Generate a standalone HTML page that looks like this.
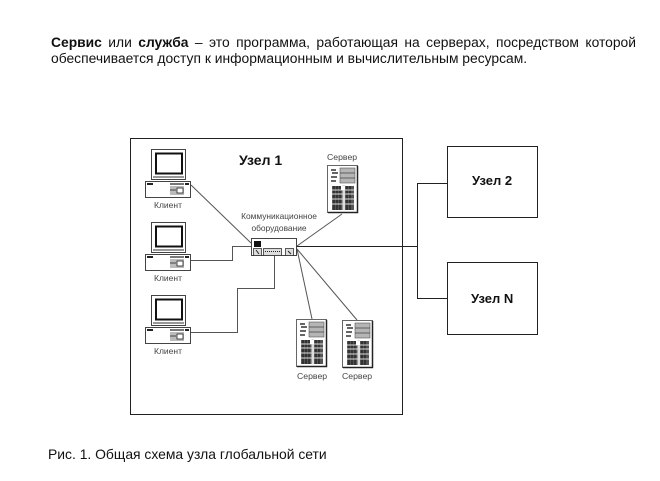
<!DOCTYPE html>
<html><head><meta charset="utf-8"><style>
html,body{margin:0;padding:0;background:#fff}
#p{position:relative;width:660px;height:481px;overflow:hidden;background:#fff;font-family:"Liberation Sans",sans-serif;color:#111;filter:blur(.35px)}
.t{position:absolute;white-space:nowrap}
.j{position:absolute;left:51px;width:585px;font-size:13.850px;line-height:16px;text-align:justify;text-align-last:justify;white-space:nowrap}
svg{position:absolute;left:0;top:0}
</style></head><body><div id="p">
<svg width="660" height="481" viewBox="0 0 660 481">
<defs>
<g id="pc">
<rect x="151.500" y="149.500" width="34" height="30" fill="#fff" stroke="#444"/>
<rect x="156" y="153.500" width="26" height="20" fill="#fff" stroke="#111" stroke-width="2"/>
<path d="M153 177H184" stroke="#777" stroke-width="1.500"/>
<rect x="145.500" y="181.500" width="45" height="16" fill="#fff" stroke="#444"/>
<rect x="147" y="183" width="6" height="2" fill="#222"/>
<rect x="170" y="183" width="14" height="2" fill="#777"/>
<rect x="185" y="183" width="4" height="2" fill="#222"/>
<rect x="170" y="186" width="14" height="9" fill="#bbb"/>
<rect x="177" y="188" width="6" height="5" fill="#fff" stroke="#222" stroke-width=".8"/>
<path d="M170 190H176" stroke="#444"/>
</g>
<g id="srv">
<rect x="327.500" y="165.500" width="30" height="47" fill="#fff" stroke="#666"/>
<path d="M357.500 166V212.500H328" stroke="#222" fill="none" stroke-width="1.500"/>
<rect x="340" y="168" width="15" height="15" fill="#b5b5b5" stroke="#555" stroke-width=".6"/>
<path d="M340 173H355M340 178H355" stroke="#444" stroke-width=".7"/>
<path d="M331 170H336M332 173H338M331 177H337M331 181H336" stroke="#333" stroke-width="1.600"/>
<rect x="332" y="186" width="22" height="24" fill="#555"/>
<path d="M334 186V210M337 186V210M340 186V210M347 186V210M350 186V210" stroke="#111" stroke-width="1"/>
<path d="M332 190H354M332 194H354M332 199H354M332 204H354" stroke="#ddd" stroke-width="1"/>
<rect x="342.500" y="185" width="2.500" height="25" fill="#ddd"/>
<rect x="341" y="186" width="4" height="4" fill="#fff"/>
</g>
</defs>
<rect x="130.500" y="138.500" width="272" height="276" fill="#fff" stroke="#222"/>
<rect x="447.500" y="146.500" width="90" height="71" fill="#fff" stroke="#222"/>
<rect x="447.500" y="262.500" width="90" height="72" fill="#fff" stroke="#222"/>
<g fill="none" stroke="#555" stroke-width="1">
<path d="M191 185L251 243"/>
<path d="M191 260.500H232.500V246.500H251"/>
<path d="M191 332.500H237.500V288.500H274.500V256"/>
<path d="M297 246L342 214"/>
<path d="M297 249L312 319"/>
<path d="M297 249L357 320"/>
<path d="M297 246.500H417.500M447 183.500H417.500V298.500H447" stroke="#222"/>
</g>
<use href="#pc"/>
<use href="#pc" y="73"/>
<use href="#pc" y="146"/>
<use href="#srv"/>
<use href="#srv" x="-31" y="154"/>
<use href="#srv" x="15" y="155"/>
<rect x="251.500" y="238.500" width="45" height="17" fill="#fff" stroke="#444"/>
<rect x="254" y="241" width="7" height="6" fill="#111"/>
<rect x="253.500" y="248.500" width="8" height="7" fill="#ddd" stroke="#333" stroke-width=".8"/>
<rect x="263.500" y="248.500" width="18" height="7" fill="#ddd" stroke="#333" stroke-width=".8"/>
<path d="M265 251.500H280" stroke="#222" stroke-dasharray="1 1"/>
<rect x="285.500" y="248.500" width="8" height="7" fill="#ddd" stroke="#333" stroke-width=".8"/>
<path d="M256 250L259 254M288 251L291 254" stroke="#222"/>
</svg>
<div class="j" style="top:34px"><b>Сервис</b> или <b>служба</b> – это программа, работающая на серверах, посредством которой</div>
<div class="t" style="left:51px;top:50px;font-size:13.850px;line-height:16px">обеспечивается доступ к информационным и вычислительным ресурсам.</div>
<div class="t" style="left:239px;top:152px;font-size:14px;line-height:16px;font-weight:bold">Узел 1</div>
<div class="t" style="left:472px;top:173px;font-size:13px;line-height:16px;font-weight:bold">Узел 2</div>
<div class="t" style="left:471px;top:291px;font-size:13px;line-height:16px;font-weight:bold">Узел N</div>
<div class="t" style="left:48px;top:446px;font-size:13.900px;line-height:16px">Рис. 1. Общая схема узла глобальной сети</div>
<div class="t" style="left:154px;top:199px;font-size:8.500px;line-height:12px;color:#444">Клиент</div>
<div class="t" style="left:154px;top:272px;font-size:8.500px;line-height:12px;color:#444">Клиент</div>
<div class="t" style="left:154px;top:345px;font-size:8.500px;line-height:12px;color:#444">Клиент</div>
<div class="t" style="left:327px;top:151px;font-size:8.700px;line-height:12px;color:#444">Сервер</div>
<div class="t" style="left:297px;top:370px;font-size:8.700px;line-height:12px;color:#444">Сервер</div>
<div class="t" style="left:342px;top:370px;font-size:8.700px;line-height:12px;color:#444">Сервер</div>
<div class="t" style="left:229px;top:211px;width:100px;text-align:center;font-size:8.400px;line-height:11.500px;color:#444">Коммуникационное<br>оборудование</div>
</div></body></html>
